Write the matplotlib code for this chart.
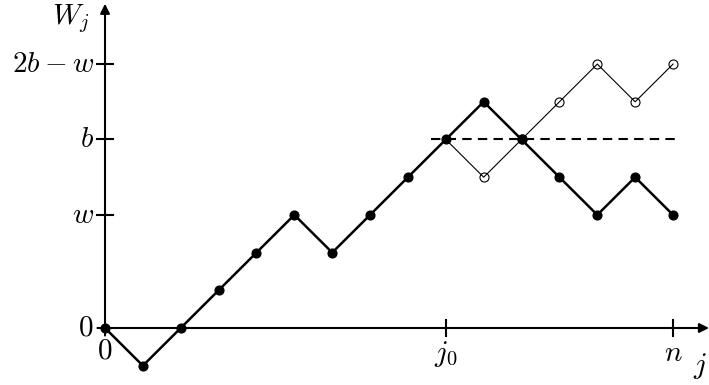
import matplotlib

matplotlib.use("Agg")
import matplotlib.pyplot as plt

plt.rcParams["mathtext.fontset"] = "cm"
plt.rcParams["font.family"] = "serif"
plt.rcParams["font.serif"] = ["DejaVu Serif"]

# random walk W_j, j = 0..n
steps = list(range(16))
walk = [0, -1, 0, 1, 2, 3, 2, 3, 4, 5, 6, 5, 4, 3, 4, 3]
# path reflected about b after j0
refl_j = [9, 10, 11, 12, 13, 14, 15]
refl_w = [5, 4, 5, 6, 7, 6, 7]

j0, n = 9, 15
w, b = 3, 5
ytick_vals = [0, w, b, 2 * b - w]
ytick_labels = ["$0$", "$w$", "$b$", "$2b-w$"]
xtick_vals = [j0, n]
xtick_labels = ["$j_0$", "$n$"]

FS = 21
fig = plt.figure(figsize=(7.09, 3.85), dpi=100)
ax = fig.add_axes([0, 0, 1, 1])
ax.set_xlim(-2.773, 15.95)
ax.set_ylim(-1.512, 8.70)
ax.axis("off")

# axes with arrows
ax.annotate("", xy=(15.95, 0), xytext=(-0.2, 0),
            arrowprops=dict(arrowstyle="-|>", lw=1.5, color="k", mutation_scale=14, shrinkA=0, shrinkB=0))
ax.annotate("", xy=(0, 8.6), xytext=(0, -0.2),
            arrowprops=dict(arrowstyle="-|>", lw=1.5, color="k", mutation_scale=14, shrinkA=0, shrinkB=0))

# ticks
for v in ytick_vals[1:]:
    ax.plot([-0.21, 0.21], [v, v], color="k", lw=1.5)
for v in xtick_vals:
    ax.plot([v, v], [-0.21, 0.21], color="k", lw=1.5)

# level b
ax.plot([8.61, 15.21], [b, b], color="k", lw=1.5, ls=(0, (4.5, 3)))

# reflected path (thin, open circles)
ax.plot(refl_j, refl_w, color="k", lw=0.8, zorder=3)
ax.plot(refl_j[1:], refl_w[1:], ls="none", marker="o", ms=6.5,
        mfc="none", mec="k", mew=0.8, zorder=4)

# original path (thick, filled dots)
ax.plot(steps, walk, color="k", lw=1.8, zorder=5)
ax.plot(steps, walk, ls="none", marker="o", ms=6.3, color="k", zorder=6)

# labels
for v, lab in zip(ytick_vals, ytick_labels):
    ax.text(-0.3, v, lab, ha="right", va="center", fontsize=FS)
ax.text(0, -0.22, "$0$", ha="center", va="top", fontsize=FS)
for v, lab in zip(xtick_vals, xtick_labels):
    ax.text(v, -0.3, lab, ha="center", va="top", fontsize=FS)
ax.text(15.72, -0.6, "$j$", ha="center", va="top", fontsize=FS)
ax.text(-0.4, 8.2, "$W_j$", ha="right", va="center", fontsize=FS)

fig.savefig("out.png", dpi=100)
